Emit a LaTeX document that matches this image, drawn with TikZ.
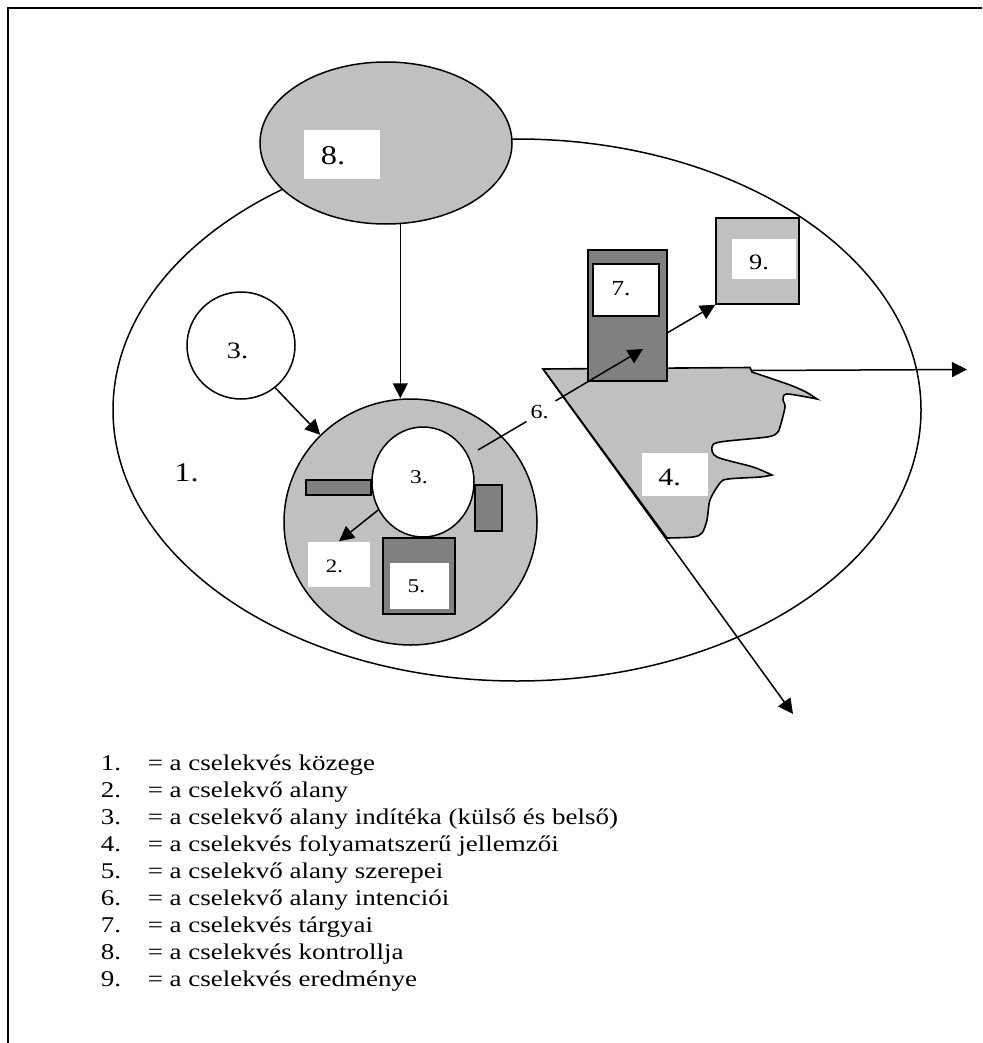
\documentclass[tikz,border=0pt]{standalone}
\usepackage{fontspec}
\setmainfont{Liberation Serif}[FakeStretch=1.2]
\usetikzlibrary{shapes.geometric,arrows.meta}
\definecolor{lightgr}{HTML}{C0C0C0}
\definecolor{darkgr}{HTML}{808080}
\newcommand{\fsz}[1]{\fontsize{#1}{#1}\selectfont}

\begin{document}
\begin{tikzpicture}[x=1pt,y=-1pt,line width=1.5pt,
    >={Triangle[length=15pt,width=15pt]}]
\useasboundingbox (0,0) rectangle (982,1043);
\draw[line width=1.8pt] (8,1043) -- (8,8) -- (982,8);

\begin{scope}[every node/.style={draw,inner sep=0pt}]
    \node (env) [ellipse,minimum width=808pt,minimum height=542pt] at (517,410) {};
    \node (ctl) [ellipse,fill=lightgr,minimum width=252pt,minimum height=162pt] at (386,143) {};
    \node (motive) [ellipse,fill=white,minimum width=108pt,minimum height=107pt] at (241,345.5) {};
    \node (agent) [ellipse,fill=lightgr,minimum width=253pt,minimum height=246pt] at (410.5,522) {};
    \node (barL) [fill=darkgr,minimum width=65pt,minimum height=15pt] at (338.5,487.5) {};
    \node (barR) [fill=darkgr,minimum width=27pt,minimum height=46pt] at (488.5,508) {};
    \node (inner) [ellipse,fill=white,minimum width=102pt,minimum height=110pt] at (423,482) {};
    \node (roles) [fill=darkgr,minimum width=72pt,minimum height=76pt] at (419,576) {};
\end{scope}

% folyamat
\filldraw[fill=lightgr,line width=1.6pt] (543,369) -- (750,367.5) -- (752,372)
    -- plot[smooth,tension=0.4] coordinates {(752,372) (790,385) (806,392) (817,399)}
    -- plot[smooth,tension=0.5] coordinates {(817,399) (787,394) (783,400) (785,407)
        (780,427) (777,433) (767,437) (720,442) (712,447) (717,457) (753,467) (772,475)}
    -- plot[smooth,tension=0.5] coordinates {(772,475) (760,477) (728,479) (720,483)
        (710,500) (707,520) (702,533) (693,537) (667,538)}
    -- cycle;
\coordinate (p0) at (543,369);
\coordinate (p1) at (752,370.5);
\coordinate (c4a) at (793,714);
\coordinate (c4b) at (967,369.5);

\begin{scope}[every node/.style={draw,inner sep=0pt}]
    \node (obj) [fill=darkgr,minimum width=79pt,minimum height=131pt] at (627.5,315.5) {};
    \node (objin) [fill=white,minimum width=66pt,minimum height=52pt] at (626,290) {};
    \node (result) [fill=lightgr,minimum width=83pt,minimum height=86pt] at (757.5,261) {};
\end{scope}

\begin{scope}[every node/.style={fill=white,inner sep=0pt}]
    \node (b8) [minimum width=76pt,minimum height=49pt] at (342,154.5) {};
    \node (subj) [minimum width=62pt,minimum height=45pt] at (339,564.5) {};
    \node (rolesin) [minimum width=59pt,minimum height=46pt] at (419.5,586) {};
    \node (resin) [minimum width=64pt,minimum height=40pt] at (764,259) {};
    \node (b4) [minimum width=66pt,minimum height=43pt] at (675,474.5) {};
\end{scope}

\begin{scope}[every node/.style={inner sep=0pt}]
    \node (l8) at (333,156) {\fsz{27}8.};
    \node (l1) at (186.5,473) {\fsz{27}1.};
    \node (l3a) at (237.5,351) {\fsz{23.5}3.};
    \node (l3b) at (419,477) {\fsz{19.5}3.};
    \node (l2) at (334.5,566.5) {\fsz{19}2.};
    \node (l5) at (416.5,586.5) {\fsz{19.5}5.};
    \node (l6) at (539.7,412) {\fsz{20}6.};
    \node (l7) at (621,288.5) {\fsz{21.5}7.};
    \node (l9) at (759,262.5) {\fsz{22}9.};
    \node (l4) at (669.5,477) {\fsz{25}4.};
\end{scope}
\coordinate (c6) at (478,450);
\coordinate (c7) at (643,349);

\begin{scope}[every edge/.style={draw=black,line width=1.5pt}]
    \path [->] (ctl.-80) edge (ctl.-80 |- agent.north);
    \path [->] (motive.-51) edge (agent.136);
    \path [->] (inner.212) edge (subj.north);
    \path [->] (obj.-23) edge (result.south west);
    \path [->,shorten <=7pt] (l6.north east) edge (c7);
    \path [-,shorten <=4pt] (l6.south west) edge (c6);
    \path [->] (p0) edge (c4a);
    \path [->] (p1) edge (c4b);
\end{scope}

% jelmagyarazat
\begin{scope}[every node/.style={anchor=base west,inner sep=0pt,font=\fsz{22.5}}]
    \node (n1) at (100,770) {1.};  \node (t1) at (147,770) {= a cselekvés közege};
    \node (n2) at (100,797) {2.};  \node (t2) at (147,797) {= a cselekvő alany};
    \node (n3) at (100,824) {3.};  \node (t3) at (147,824) {= a cselekvő alany indítéka (külső és belső)};
    \node (n4) at (100,851) {4.};  \node (t4) at (147,851) {= a cselekvés folyamatszerű jellemzői};
    \node (n5) at (100,878) {5.};  \node (t5) at (147,878) {= a cselekvő alany szerepei};
    \node (n6) at (100,905) {6.};  \node (t6) at (147,905) {= a cselekvő alany intenciói};
    \node (n7) at (100,932) {7.};  \node (t7) at (147,932) {= a cselekvés tárgyai};
    \node (n8) at (100,959) {8.};  \node (t8) at (147,959) {= a cselekvés kontrollja};
    \node (n9) at (100,986) {9.};  \node (t9) at (147,986) {= a cselekvés eredménye};
\end{scope}
\end{tikzpicture}
\end{document}
